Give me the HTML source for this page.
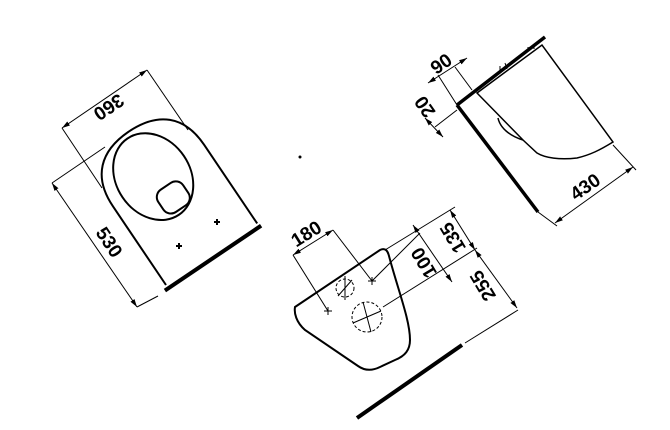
<!DOCTYPE html>
<html><head><meta charset="utf-8"><style>
html,body{margin:0;padding:0;background:#fff;width:670px;height:430px;overflow:hidden}
svg{display:block}
text{font-family:"Liberation Sans",sans-serif;font-weight:bold;font-size:19px;fill:#000}
</style></head><body>
<svg width="670" height="430" viewBox="0 0 670 430" xmlns="http://www.w3.org/2000/svg">
<defs>
<marker id="a" viewBox="0 0 10 6" refX="10" refY="3" markerWidth="8" markerHeight="5" orient="auto-start-reverse"><path d="M0,0L10,3L0,6z" fill="#000"/></marker>
</defs>
<g stroke="#000" fill="none" stroke-width="1">
<!-- LEFT -->
<line x1="62" y1="128" x2="147" y2="70" marker-start="url(#a)" marker-end="url(#a)"/>
<line x1="147" y1="70" x2="188" y2="130"/>
<line x1="62" y1="128" x2="102" y2="188"/>
<line x1="52" y1="183" x2="137" y2="307" marker-start="url(#a)" marker-end="url(#a)"/>
<line x1="52" y1="183" x2="105" y2="147"/>
<line x1="137" y1="307" x2="158" y2="296"/>
<g transform="translate(166,285) rotate(-34)">
<path d="M0,0 L0,-95 C0,-130 20,-148 55,-148 C90,-148 110,-130 110,-95 L110,0" stroke-width="2"/>
<ellipse cx="50" cy="-97" rx="37" ry="46" stroke-width="2"/>
<rect x="40" y="-82" width="30" height="27" rx="9" stroke-width="2"/>
<line x1="-4" y1="4" x2="112" y2="4" stroke-width="4"/>
</g>
<path d="M214,222h6M217,219v6M176,246h6M179,243v6" stroke-width="2"/>
<!-- MIDDLE -->
<path d="M295,307 L380,250 C386,247 388,252 389,256 C398,290 410,320 410,340 C410,350 405,356 395,360 L380,367 C372,371 365,371 358,366 L305,330 C296,322 294,313 295,307 Z" stroke-width="2"/>
<line x1="357" y1="418" x2="462" y2="345" stroke-width="4"/>
<circle cx="345" cy="288" r="9" stroke-dasharray="3,2"/>
<circle cx="367" cy="317" r="15" stroke-dasharray="3,2"/>
<path d="M338,296L352,280M353,323L381,311M345,276v24M363,302l8,30"/>
<path d="M368,281h8M372,277v8M324,311h8M328,307v8"/>
<line x1="293" y1="255" x2="333" y2="230" marker-start="url(#a)" marker-end="url(#a)"/>
<line x1="293" y1="255" x2="328" y2="311"/>
<line x1="333" y1="230" x2="372" y2="281"/>
<line x1="372" y1="281" x2="420" y2="233"/>
<line x1="385" y1="250" x2="455" y2="207"/>
<line x1="383" y1="307" x2="477" y2="248"/>
<line x1="465" y1="343" x2="518" y2="310"/>
<line x1="450" y1="210" x2="475" y2="250" marker-start="url(#a)" marker-end="url(#a)"/>
<line x1="475" y1="250" x2="517" y2="308" marker-start="url(#a)" marker-end="url(#a)"/>
<line x1="413" y1="225" x2="452" y2="282" marker-start="url(#a)" marker-end="url(#a)"/>
<!-- RIGHT -->
<line x1="457" y1="105" x2="545" y2="37" stroke-width="3.5"/>
<line x1="457" y1="105" x2="538" y2="212" stroke-width="3.5"/>
<path d="M477,93 L542,45 L613,142 C600,150 590,155 577,158 C560,160 545,158 537,153 L523,140 Z" stroke-width="1.5"/>
<path d="M498,118 C500,128 510,136 523,140" stroke-width="1.5"/>
<path d="M500,66v6M505,63l2,6M528,47v5M534,44v5" stroke-width="1"/>
<line x1="428" y1="83" x2="467" y2="58" marker-start="url(#a)" marker-end="url(#a)"/>
<line x1="455" y1="67" x2="472" y2="90"/>
<line x1="438" y1="75" x2="457" y2="105"/>
<line x1="425" y1="118" x2="443" y2="137" marker-start="url(#a)" marker-end="url(#a)"/>
<line x1="435" y1="127" x2="457" y2="110"/>
<line x1="555" y1="223" x2="633" y2="167" marker-start="url(#a)" marker-end="url(#a)"/>
<line x1="613" y1="145" x2="636" y2="170"/>
<line x1="538" y1="212" x2="557" y2="226"/>
</g>
<circle cx="300" cy="157" r="1.5" fill="#000"/>
<text transform="translate(108,106) rotate(146)" text-anchor="middle" dominant-baseline="middle">360</text>
<text transform="translate(108,243) rotate(56)" text-anchor="middle" dominant-baseline="middle">530</text>
<text transform="translate(307,235) rotate(-32)" text-anchor="middle" dominant-baseline="middle">180</text>
<text transform="translate(454,237) rotate(-121)" text-anchor="middle" dominant-baseline="middle">135</text>
<text transform="translate(425,262) rotate(-121)" text-anchor="middle" dominant-baseline="middle">100</text>
<text transform="translate(484,285) rotate(-121)" text-anchor="middle" dominant-baseline="middle">255</text>
<text transform="translate(442,65) rotate(-35)" text-anchor="middle" dominant-baseline="middle">90</text>
<text transform="translate(426,106) rotate(-125)" text-anchor="middle" dominant-baseline="middle">20</text>
<text transform="translate(586,188) rotate(-35)" text-anchor="middle" dominant-baseline="middle">430</text>
</svg>
</body></html>
